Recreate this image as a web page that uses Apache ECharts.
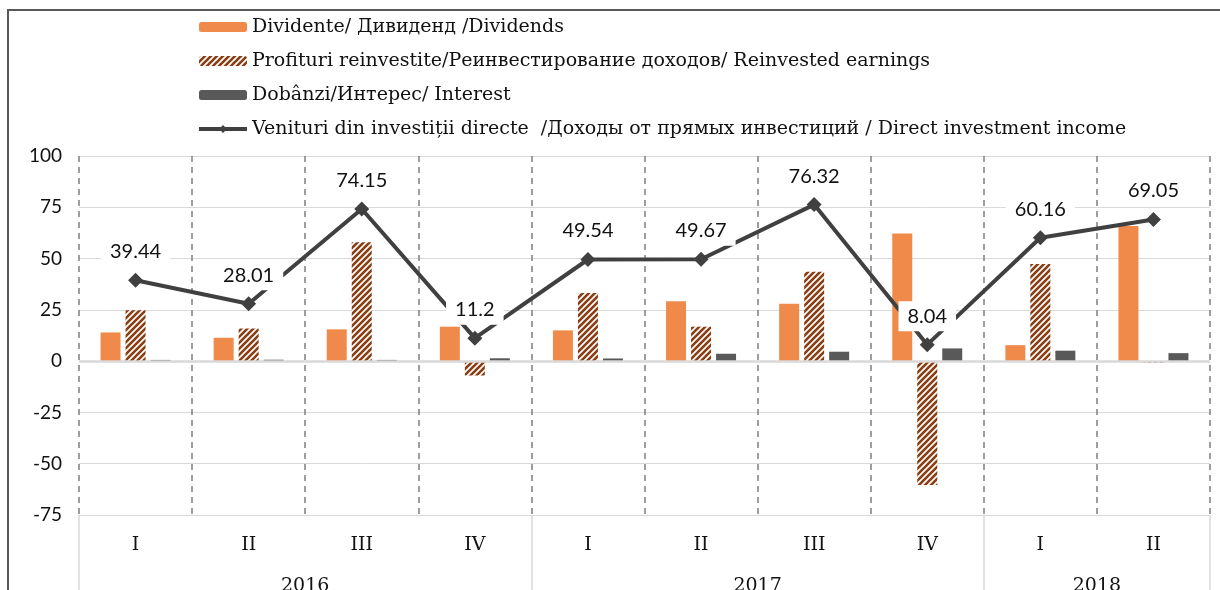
<!DOCTYPE html>
<html>
<head>
<meta charset="utf-8">
<script src="https://cdn.jsdelivr.net/npm/echarts@6/dist/echarts.min.js"></script>
<style>
  html, body { margin: 0; padding: 0; background: #fff; }
  #chart { width: 1220px; height: 590px; }
</style>
</head>
<body>
<div id="chart"></div>
<script>
const quarters = ['I', 'II', 'III', 'IV', 'I', 'II', 'III', 'IV', 'I', 'II'];
const years = {2: '2016', 6: '2017', 9: '2018'};
const dividends = [14.0, 11.4, 15.5, 16.8, 15.0, 29.2, 28.0, 62.2, 7.8, 65.9];
const reinvested = [24.8, 15.9, 58.0, -7.0, 33.2, 16.8, 43.6, -60.4, 47.3, -0.8];
const interest = [0.6, 0.7, 0.6, 1.4, 1.3, 3.6, 4.6, 6.2, 5.1, 3.9];
const income = [39.44, 28.01, 74.15, 11.2, 49.54, 49.67, 76.32, 8.04, 60.16, 69.05];

const names = [
    'Dividente/ Дивиденд /Dividends',
    'Profituri reinvestite/Реинвестирование доходов/ Reinvested earnings',
    'Dobânzi/Интерес/ Interest',
    'Venituri din investiții directe  /Доходы от прямых инвестиций / Direct investment income'
];

// hatch pattern for reinvested earnings
function hatch() {
    let s = 6;
    let c = document.createElement('canvas');
    c.width = s; c.height = s;
    let ctx = c.getContext('2d');
    ctx.fillStyle = '#fff';
    ctx.fillRect(0, 0, s, s);
    ctx.strokeStyle = '#8a3d12';
    ctx.lineWidth = 2.6;
    ctx.beginPath();
    ctx.moveTo(0, s); ctx.lineTo(s, 0);
    ctx.moveTo(-2, 2); ctx.lineTo(2, -2);
    ctx.moveTo(s - 2, s + 2); ctx.lineTo(s + 2, s - 2);
    ctx.stroke();
    return c;
}

const serif = 'DejaVu Serif';
const sans = 'Lato';

let chart = echarts.init(document.getElementById('chart'));
let option = {
    animation: false,
    graphic: [{
        type: 'rect',
        shape: {x: 8, y: 10, width: 1400, height: 800},
        style: {fill: 'none', stroke: '#595959', lineWidth: 2},
        silent: true
    }],
    legend: {
        orient: 'vertical',
        left: 197,
        top: 15,
        padding: 0,
        itemWidth: 48,
        itemHeight: 10,
        itemGap: 10,
        textStyle: {fontFamily: serif, fontSize: 19, color: '#111', lineHeight: 24},
        data: [
            names[0], names[1], names[2],
            {name: names[3], lineStyle: {width: 4}, itemStyle: {color: '#404040'}}
        ]
    },
    grid: {left: 79, right: 10, top: 156, bottom: 75, outerBoundsMode: 'none'},
    xAxis: [{
        type: 'category',
        data: quarters,
        axisLine: {show: false},
        axisTick: {show: false},
        axisLabel: {fontFamily: serif, fontSize: 19, color: '#111', margin: 21},
        splitLine: {show: true, interval: 0, lineStyle: {color: '#7f7f7f', width: 1.5, type: [6, 5]}}
    }, {
        type: 'value',
        min: 0,
        max: 10,
        interval: 1,
        position: 'bottom',
        axisLine: {show: false},
        splitLine: {show: false},
        axisTick: {show: true, customValues: [0, 4, 8, 10], length: 80, lineStyle: {color: '#d9d9d9', width: 1.5}},
        axisLabel: {
            customValues: [2, 6, 9],
            formatter: v => years[v] || '',
            fontFamily: serif, fontSize: 19, color: '#111', margin: 62
        }
    }],
    yAxis: {
        type: 'value',
        min: -75,
        max: 100,
        interval: 25,
        axisLine: {show: false},
        axisTick: {show: false},
        axisLabel: {fontFamily: sans, fontSize: 19, color: '#111', margin: 17},
        splitLine: {lineStyle: {color: '#d9d9d9', width: 1}}
    },
    series: [{
        name: names[0],
        type: 'bar',
        data: dividends,
        barWidth: 20,
        barGap: '25%',
        itemStyle: {color: '#f08a4b'},
        markLine: {
            silent: true,
            symbol: 'none',
            label: {show: false},
            lineStyle: {color: '#d9d9d9', width: 2.5, type: 'solid'},
            data: [{yAxis: 0}]
        }
    }, {
        name: names[1],
        type: 'bar',
        data: reinvested,
        barWidth: 20,
        itemStyle: {color: {image: hatch(), repeat: 'repeat'}}
    }, {
        name: names[2],
        type: 'bar',
        data: interest,
        barWidth: 20,
        itemStyle: {color: '#595959'}
    }, {
        name: names[3],
        type: 'line',
        data: income,
        symbol: 'diamond',
        symbolSize: 15,
        z: 5,
        lineStyle: {color: '#404040', width: 4},
        itemStyle: {color: '#404040'},
        label: {
            show: true,
            position: 'top',
            distance: 6,
            fontFamily: sans,
            fontSize: 20,
            color: '#111',
            backgroundColor: '#fff',
            padding: [5, 9]
        }
    }]
};
chart.setOption(option);
</script>
</body>
</html>
